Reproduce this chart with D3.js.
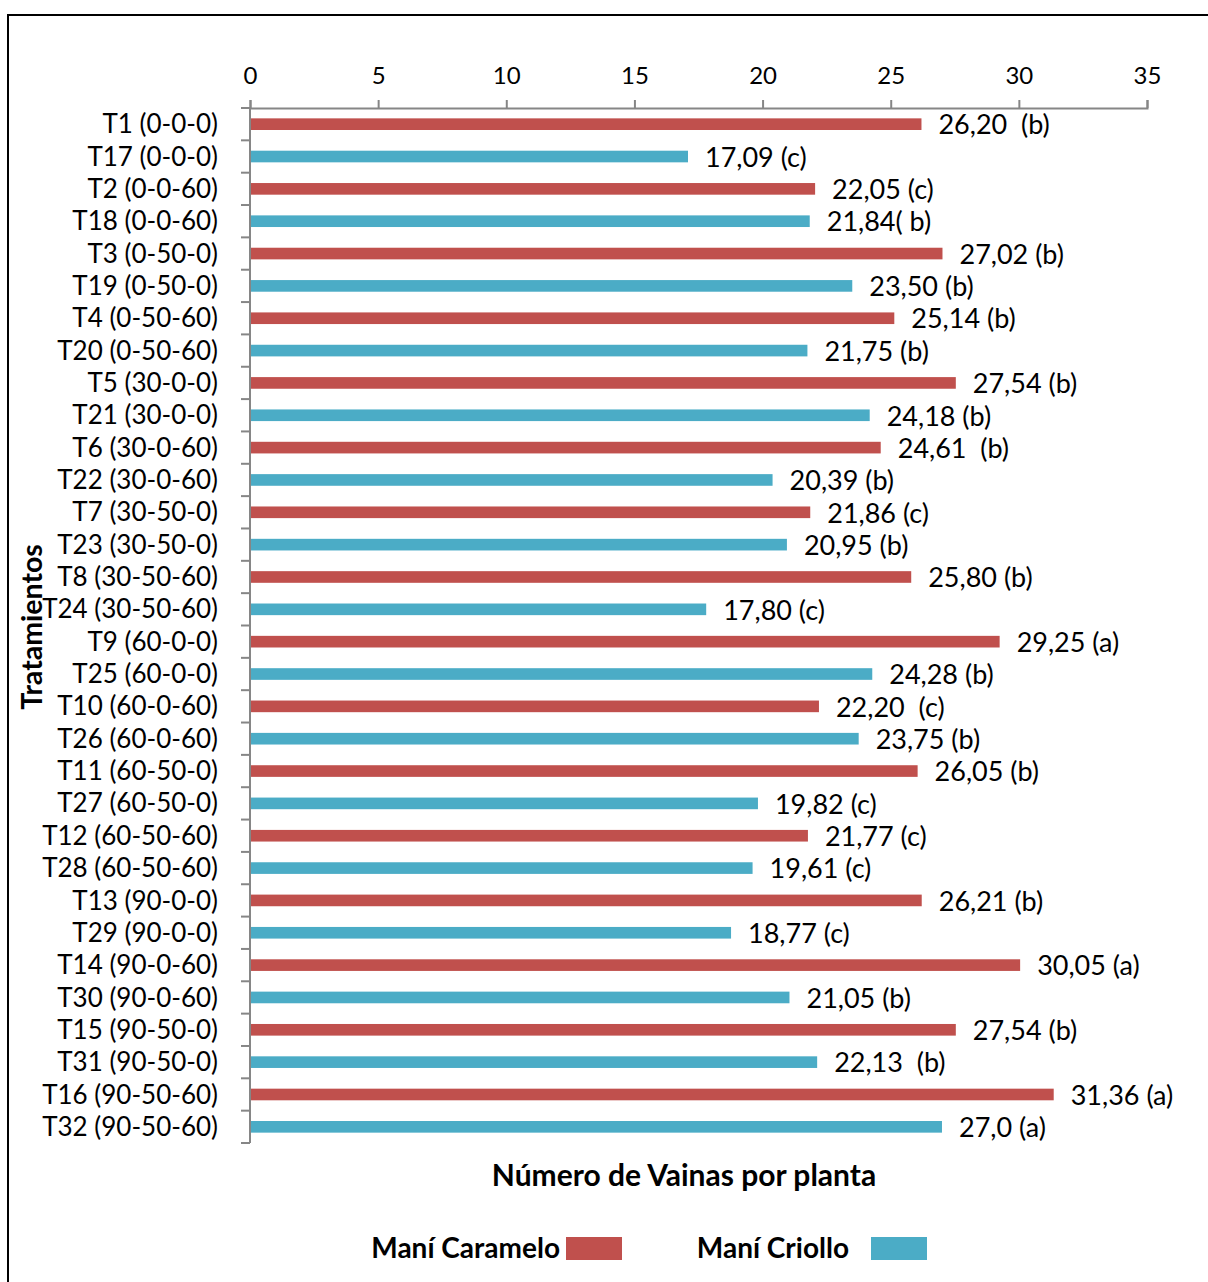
<!DOCTYPE html>
<html>
<head>
<meta charset="utf-8">
<script src="https://cdn.jsdelivr.net/npm/d3@7"></script>
<style>
  html, body { margin: 0; padding: 0; background: #fff; }
  svg { display: block; font-family: Lato, "Open Sans", sans-serif; }
</style>
</head>
<body>
<svg id="chart" width="1208" height="1282"></svg>
<script>
// Treatments (N-P-K doses) for each variety
const doses = ["0-0-0", "0-0-60", "0-50-0", "0-50-60", "30-0-0", "30-0-60", "30-50-0", "30-50-60",
               "60-0-0", "60-0-60", "60-50-0", "60-50-60", "90-0-0", "90-0-60", "90-50-0", "90-50-60"];

// Pods per plant, Maní Caramelo (T1–T16)
const caramelo = [26.20, 22.05, 27.02, 25.14, 27.54, 24.61, 21.86, 25.80,
                  29.25, 22.20, 26.05, 21.77, 26.21, 30.05, 27.54, 31.36];
const carameloLabels = ["26,20  (b)", "22,05 (c)", "27,02 (b)", "25,14 (b)", "27,54 (b)", "24,61  (b)", "21,86 (c)", "25,80 (b)",
                        "29,25 (a)", "22,20  (c)", "26,05 (b)", "21,77 (c)", "26,21 (b)", "30,05 (a)", "27,54 (b)", "31,36 (a)"];

// Pods per plant, Maní Criollo (T17–T32)
const criollo = [17.09, 21.84, 23.50, 21.75, 24.18, 20.39, 20.95, 17.80,
                 24.28, 23.75, 19.82, 19.61, 18.77, 21.05, 22.13, 27.0];
const criolloLabels = ["17,09 (c)", "21,84( b)", "23,50 (b)", "21,75 (b)", "24,18 (b)", "20,39 (b)", "20,95 (b)", "17,80 (c)",
                       "24,28 (b)", "23,75 (b)", "19,82 (c)", "19,61 (c)", "18,77 (c)", "21,05 (b)", "22,13  (b)", "27,0 (a)"];

const xTicks = [0, 5, 10, 15, 20, 25, 30, 35];
const seriesNames = ["Maní Caramelo", "Maní Criollo"];
const colors = ["#C0504D", "#4BACC6"];

(function draw() {
  // Interleave the two varieties: T1, T17, T2, T18, ...
  const rows = [];
  doses.forEach((d, i) => {
    rows.push({ name: `T${i + 1} (${d})`, value: caramelo[i], label: carameloLabels[i], s: 0 });
    rows.push({ name: `T${i + 17} (${d})`, value: criollo[i], label: criolloLabels[i], s: 1 });
  });

  const svg = d3.select("#chart");
  const W = 1208, H = 1282;

  // Outer frame
  svg.append("rect")
    .attr("x", 8).attr("y", 15).attr("width", W).attr("height", H)
    .attr("fill", "none").attr("stroke", "#000").attr("stroke-width", 2);

  const plotL = 250, plotR = 1147, plotT = 108, plotB = 1143;
  const x = d3.scaleLinear().domain([0, 35]).range([plotL, plotR]);
  const y = d3.scaleBand().domain(rows.map(r => r.name)).range([plotT, plotB])
    .paddingInner(0.64).paddingOuter(0.32);

  const axisColor = "#868686";

  // Top value axis
  const xAxis = svg.append("g")
    .attr("transform", `translate(0,${plotT})`)
    .call(d3.axisTop(x).tickValues(xTicks).tickSize(8).tickPadding(16).tickFormat(d3.format("d")));
  xAxis.select(".domain").attr("stroke", axisColor).attr("stroke-width", 2);
  xAxis.selectAll(".tick line").attr("stroke", axisColor).attr("stroke-width", 2);
  xAxis.selectAll(".tick text").attr("fill", "#000")
    .style("font-size", "24px").style("font-family", "Lato, sans-serif");

  // Category axis with ticks between categories
  const step = (plotB - plotT) / rows.length;
  const yAxisG = svg.append("g");
  yAxisG.append("line")
    .attr("x1", plotL).attr("x2", plotL).attr("y1", plotT).attr("y2", plotB)
    .attr("stroke", axisColor).attr("stroke-width", 2);
  yAxisG.selectAll("line.tk")
    .data(d3.range(rows.length + 1))
    .join("line").attr("class", "tk")
    .attr("x1", plotL - 9).attr("x2", plotL)
    .attr("y1", i => plotT + i * step).attr("y2", i => plotT + i * step)
    .attr("stroke", axisColor).attr("stroke-width", 2);
  yAxisG.selectAll("text")
    .data(rows)
    .join("text")
    .attr("x", plotL - 32)
    .attr("y", d => y(d.name) + y.bandwidth() / 2)
    .attr("dy", "0.35em")
    .attr("text-anchor", "end")
    .style("font-size", "26px")
    .text(d => d.name);

  // Bars
  svg.append("g").selectAll("rect")
    .data(rows)
    .join("rect")
    .attr("x", x(0) + 1)
    .attr("y", d => y(d.name))
    .attr("width", d => x(d.value) - x(0) - 1)
    .attr("height", y.bandwidth())
    .attr("fill", d => colors[d.s]);

  // Value labels
  svg.append("g").selectAll("text")
    .data(rows)
    .join("text")
    .attr("x", d => x(d.value) + 17)
    .attr("y", d => y(d.name) + y.bandwidth() / 2)
    .attr("dy", "0.38em")
    .style("font-size", "27px")
    .style("white-space", "pre")
    .text(d => d.label);

  // Axis titles
  svg.append("text")
    .attr("transform", "translate(42,627) rotate(-90)")
    .attr("text-anchor", "middle")
    .style("font-size", "28.5px").style("font-weight", "bold")
    .text("Tratamientos");

  svg.append("text")
    .attr("x", 684).attr("y", 1186)
    .attr("text-anchor", "middle")
    .style("font-size", "30px").style("font-weight", "bold")
    .text("Número de Vainas por planta");

  // Legend
  const legend = [
    { textEnd: 560, sx: 566 },
    { textEnd: 849, sx: 871 }
  ];
  legend.forEach((l, i) => {
    svg.append("text")
      .attr("x", l.textEnd).attr("y", 1258)
      .attr("text-anchor", "end")
      .style("font-size", "28px").style("font-weight", "bold")
      .text(seriesNames[i]);
    svg.append("rect")
      .attr("x", l.sx).attr("y", 1237).attr("width", 56).attr("height", 23)
      .attr("fill", colors[i]);
  });
})();
</script>
</body>
</html>
